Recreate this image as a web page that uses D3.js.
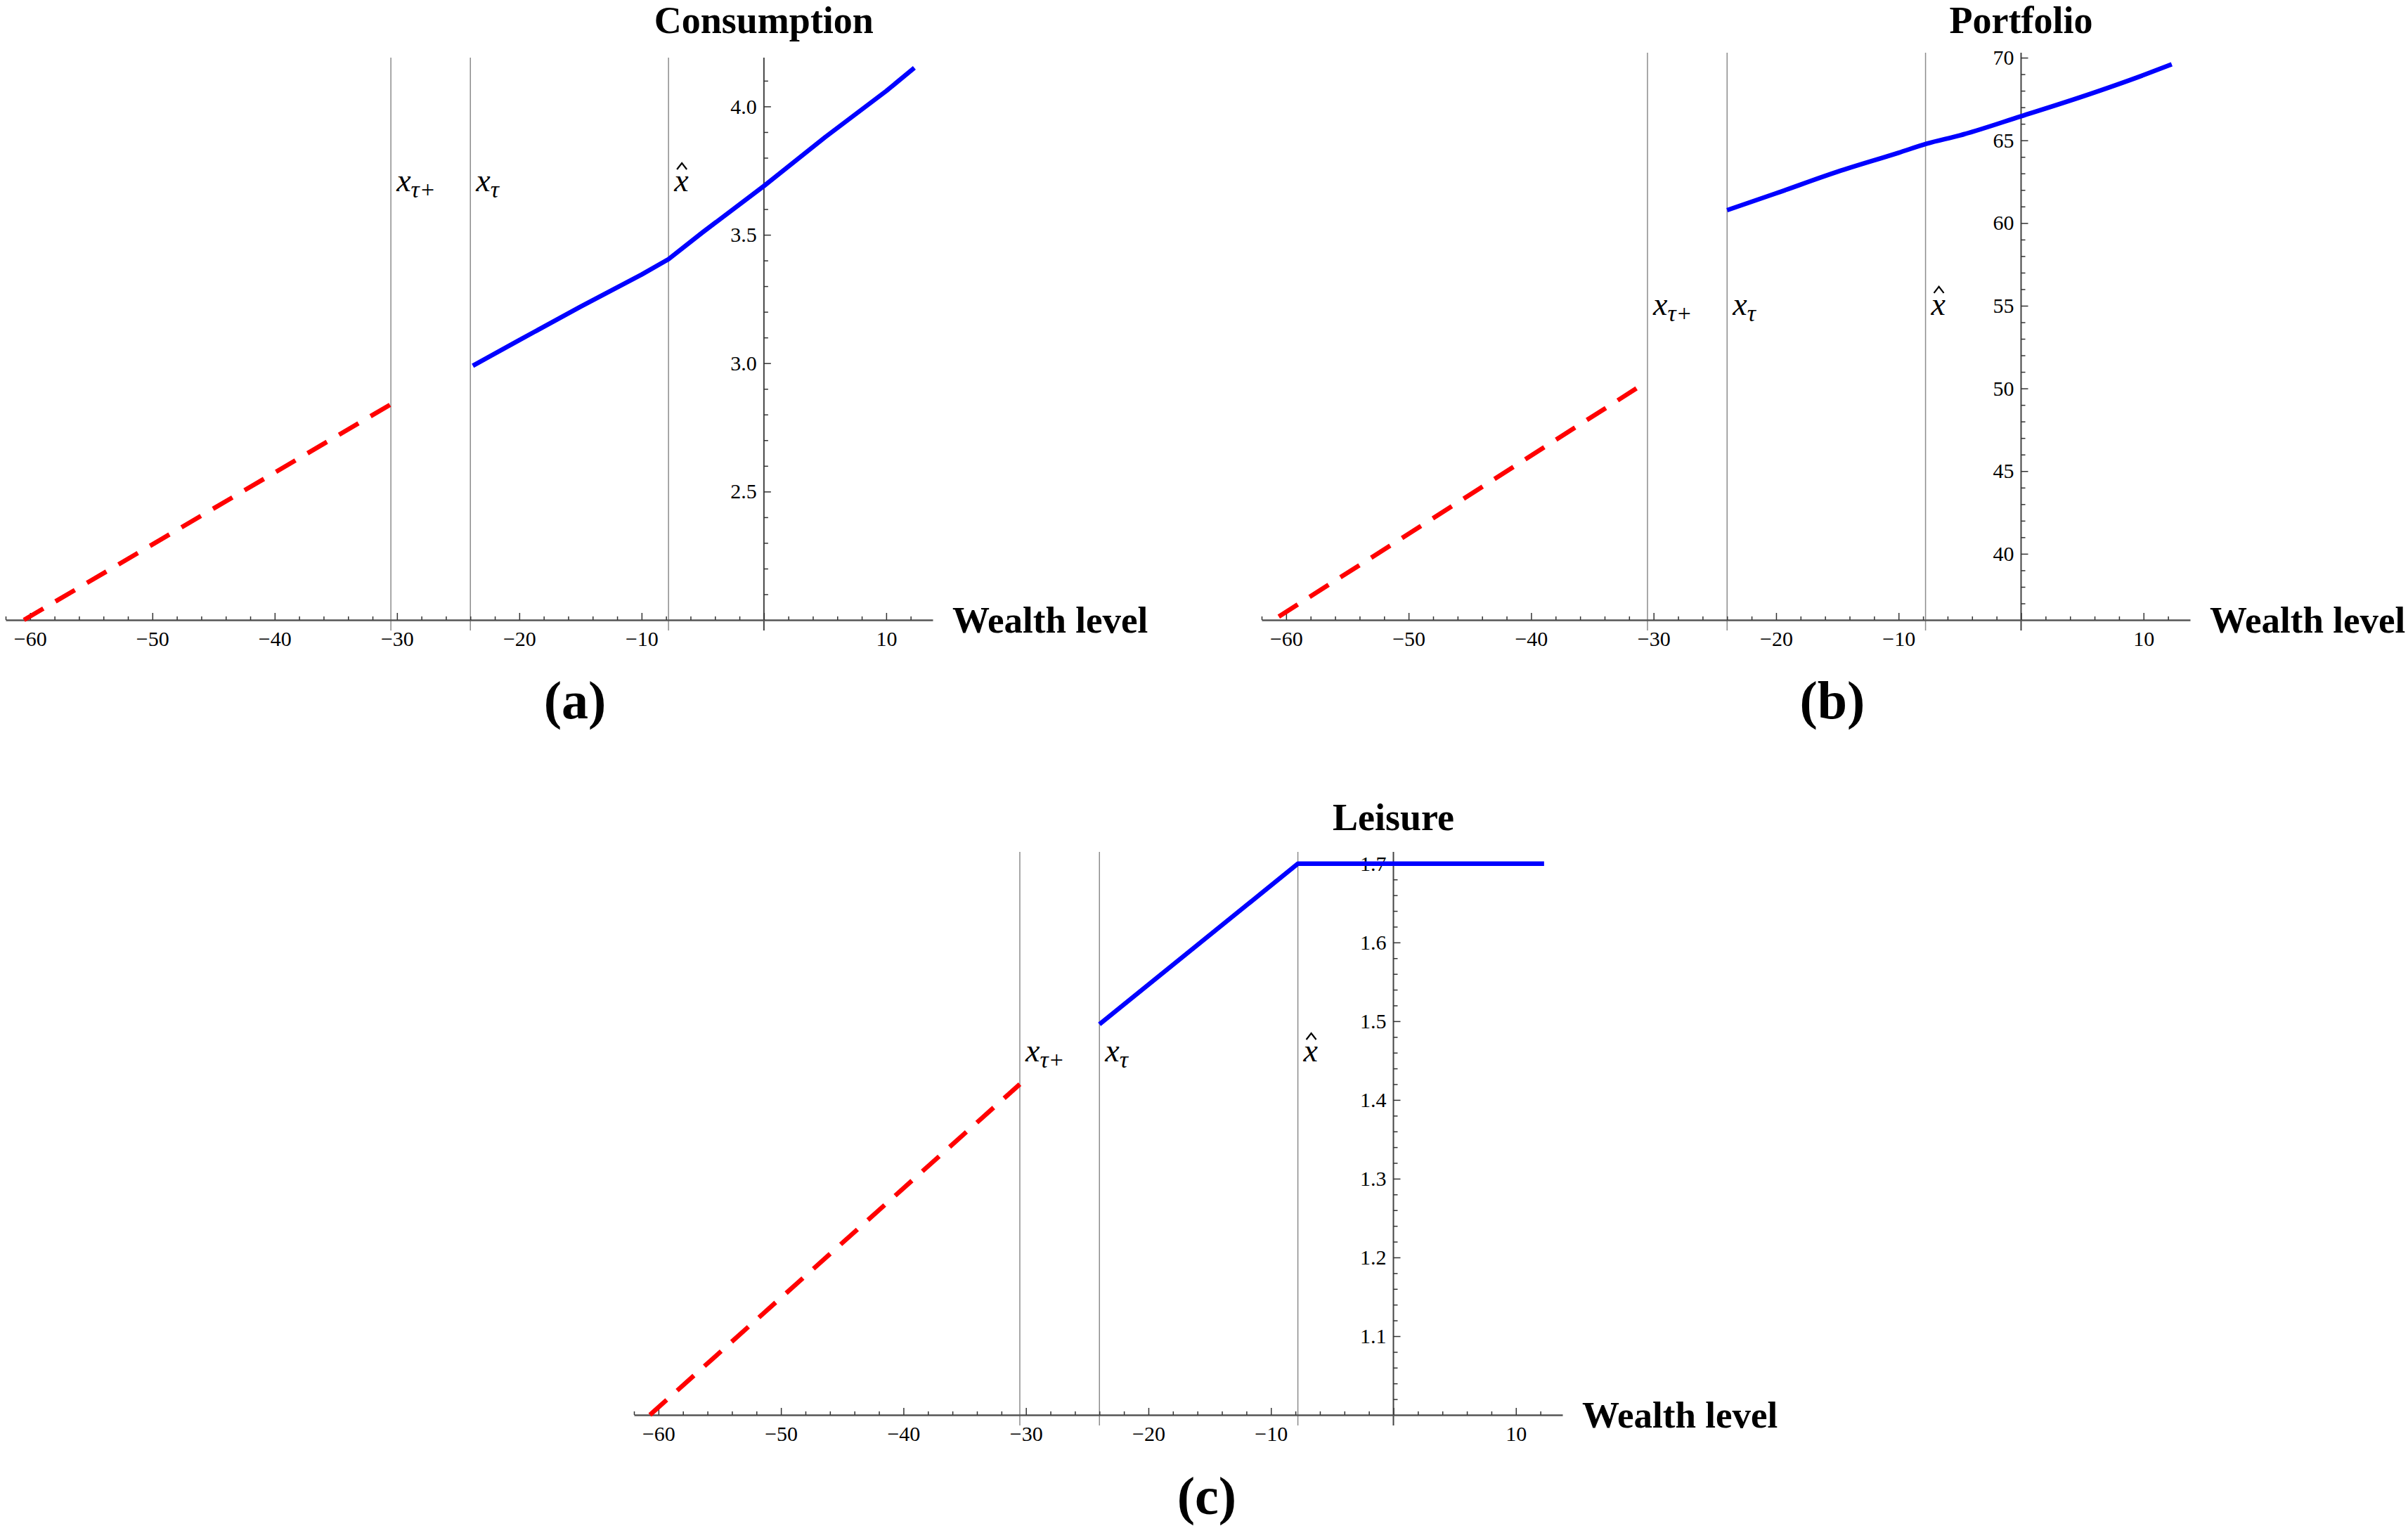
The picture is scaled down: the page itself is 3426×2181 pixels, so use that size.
<!DOCTYPE html>
<html>
<head>
<meta charset="utf-8">
<script src="https://cdn.jsdelivr.net/npm/d3@7"></script>
<style>
  body { margin: 0; background: #fff; }
  svg text { font-family: "Liberation Serif", "Times New Roman", serif; }
</style>
</head>
<body>
<div class="d3Chart"></div>
<script>
// wealth cut-offs: x_tau+, x_tau, x_hat
var cutoffs = [-30.5, -24, -7.8];
var xTickLabels = [-60, -50, -40, -30, -20, -10, 0, 10];

// (a) consumption
var consRedX = [-60.5, -30.5];
var consRedY = [2.0, 2.84];
var consBlueX = [-23.8, -20, -15, -10, -7.8, -5, 0, 5, 10, 12.3];
var consBlueY = [2.99, 3.09, 3.22, 3.345, 3.405, 3.51, 3.69, 3.88, 4.06, 4.15];
var consTicks = [2.5, 3.0, 3.5, 4.0];

// (b) portfolio
var portRedX = [-60.6, -31.4];
var portRedY = [36.2, 50.0];
var portBlueX = [-24, -20, -15, -10, -7.7, -5, 0, 5, 10, 12.3];
var portBlueY = [60.78, 61.8, 63.1, 64.25, 64.8, 65.3, 66.46, 67.65, 68.95, 69.6];
var portTicks = [40, 45, 50, 55, 60, 65, 70];

// (c) leisure
var leisRedX = [-60.7, -30.5];
var leisRedY = [1.0, 1.42];
var leisBlueX = [-24, -7.8, 12.3];
var leisBlueY = [1.496, 1.70, 1.70];
var leisTicks = [1.1, 1.2, 1.3, 1.4, 1.5, 1.6, 1.7];

var width = 3426;
var height = 2181;

var svg = d3.select(".d3Chart").append("svg")
  .attr("width", width).attr("height", height)
  .style("background-color", "#fff");

function zip(xs, ys) { return xs.map(function (x, i) { return [x, ys[i]]; }); }

var panels = [
  { title: "Consumption", tag: "(a)", left: 8, right: 1327, top: 82, bottom: 882,
    yDomain: [2.0, 4.19], ticks: consTicks, minor: 0.1, fmt: ".1f", labelY: 3.67,
    red: zip(consRedX, consRedY), blue: zip(consBlueX, consBlueY), curve: d3.curveLinear,
    titleY: 47, tagX: 818, tagY: 1022 },
  { title: "Portfolio", tag: "(b)", left: 1795, right: 3116, top: 75, bottom: 882,
    yDomain: [36, 70.3], ticks: portTicks, minor: 1, fmt: "d", labelY: 54.45,
    red: zip(portRedX, portRedY), blue: zip(portBlueX, portBlueY), curve: d3.curveMonotoneX,
    titleY: 47, tagX: 2607, tagY: 1022 },
  { title: "Leisure", tag: "(c)", left: 902, right: 2223, top: 1212, bottom: 2013,
    yDomain: [1.0, 1.715], ticks: leisTicks, minor: 0.02, fmt: ".1f", labelY: 1.449,
    red: zip(leisRedX, leisRedY), blue: zip(leisBlueX, leisBlueY), curve: d3.curveLinear,
    titleY: 1181, tagX: 1717, tagY: 2154 }
];

panels.forEach(function (p) {
  var x = d3.scaleLinear().domain([-62, 13.8]).range([p.left, p.right]);
  var y = d3.scaleLinear().domain(p.yDomain).range([p.bottom, p.top]);
  var g = svg.append("g");

  // vertical cut-off lines
  g.selectAll(".cut").data(cutoffs).enter().append("line")
    .attr("x1", function (d) { return x(d); }).attr("x2", function (d) { return x(d); })
    .attr("y1", p.top).attr("y2", p.bottom + 15)
    .attr("stroke", "#8c8c8c").attr("stroke-width", 1.5);

  // y axis line
  g.append("line").attr("x1", x(0)).attr("x2", x(0))
    .attr("y1", p.top).attr("y2", p.bottom + 15)
    .attr("stroke", "#444").attr("stroke-width", 2);

  // x axis: minor then major
  var xMinor = d3.range(-62, 13, 2).filter(function (v) { return v % 10 !== 0; });
  g.append("g").attr("transform", "translate(0," + p.bottom + ")")
    .call(d3.axisBottom(x).tickValues(xMinor).tickSizeInner(-5).tickSizeOuter(0).tickFormat(""))
    .call(function (s) { s.select(".domain").attr("stroke", "#555").attr("stroke-width", 2.5); });
  g.append("g").attr("transform", "translate(0," + p.bottom + ")")
    .call(d3.axisBottom(x).tickValues(xTickLabels).tickSizeInner(-10).tickSizeOuter(0).tickPadding(16)
      .tickFormat(function (d) { return d === 0 ? "" : d3.format("d")(d); }))
    .call(function (s) {
      s.select(".domain").remove();
      s.selectAll("text").style("font-family", "'Liberation Serif', serif").style("font-size", "30px").attr("fill", "#000");
    });

  // y axis ticks
  var yMinor = d3.range(p.yDomain[0] + p.minor, p.yDomain[1], p.minor)
    .filter(function (v) { return !p.ticks.some(function (t) { return Math.abs(t - v) < 1e-6; }); });
  g.append("g").attr("transform", "translate(" + x(0) + ",0)")
    .call(d3.axisLeft(y).tickValues(yMinor).tickSizeInner(-6).tickSizeOuter(0).tickFormat(""))
    .call(function (s) { s.select(".domain").remove(); });
  g.append("g").attr("transform", "translate(" + x(0) + ",0)")
    .call(d3.axisLeft(y).tickValues(p.ticks).tickSizeInner(-10).tickSizeOuter(0).tickPadding(10)
      .tickFormat(d3.format(p.fmt)))
    .call(function (s) {
      s.select(".domain").remove();
      s.selectAll("text").style("font-family", "'Liberation Serif', serif").style("font-size", "30px").attr("fill", "#000");
    });
  g.selectAll(".tick line").attr("stroke", "#333").attr("stroke-width", 1.5);

  // red dashed segment
  g.append("path").datum(p.red)
    .attr("d", d3.line().x(function (d) { return x(d[0]); }).y(function (d) { return y(d[1]); }))
    .attr("fill", "none").attr("stroke", "#ff0000").attr("stroke-width", 6.5)
    .attr("stroke-dasharray", "32,20");

  // blue solid curve
  g.append("path").datum(p.blue)
    .attr("d", d3.line().curve(p.curve).x(function (d) { return x(d[0]); }).y(function (d) { return y(d[1]); }))
    .attr("fill", "none").attr("stroke", "#0000ff").attr("stroke-width", 6.5)
    .attr("stroke-linejoin", "round");

  // cut-off labels
  var ly = y(p.labelY);
  var subs = ["\u03c4+", "\u03c4", null];
  cutoffs.forEach(function (c, i) {
    var t = g.append("text").attr("x", x(c) + 8).attr("y", ly)
      .style("font-style", "italic").style("font-size", "46px").text("x");
    if (subs[i]) {
      t.append("tspan").attr("dy", 9).style("font-size", "34px").text(subs[i]);
    } else {
      // hat accent drawn as a small chevron over the x
      var cx = x(c) + 19;
      g.append("path")
        .attr("d", d3.line()([[cx - 7, ly - 31], [cx, ly - 40], [cx + 7, ly - 31]]))
        .attr("fill", "none").attr("stroke", "#000").attr("stroke-width", 2.2);
    }
  });

  // title, axis label, sub-figure tag
  g.append("text").attr("x", x(0)).attr("y", p.titleY).attr("text-anchor", "middle")
    .style("font-weight", "bold").style("font-size", "54px").text(p.title);
  g.append("text").attr("x", p.right + 28).attr("y", p.bottom + 18)
    .style("font-weight", "bold").style("font-size", "53px").text("Wealth level");
  g.append("text").attr("x", p.tagX).attr("y", p.tagY).attr("text-anchor", "middle")
    .style("font-weight", "bold").style("font-size", "76px").text(p.tag);
});
</script>
</body>
</html>
